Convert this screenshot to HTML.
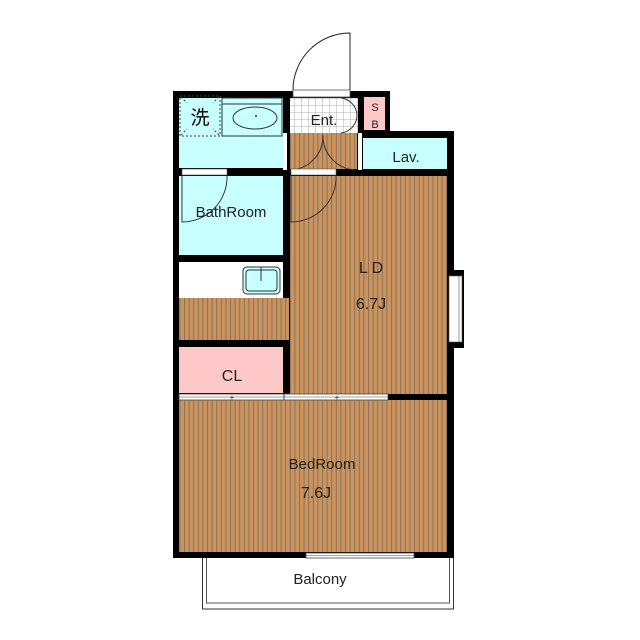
<!DOCTYPE html>
<html><head><meta charset="utf-8"><style>
body{margin:0;background:#fff;}
svg{display:block;}
text{font-family:"Liberation Sans","Noto Sans CJK JP",sans-serif;fill:#222;}
</style></head><body>
<svg width="640" height="640" viewBox="0 0 640 640" xmlns="http://www.w3.org/2000/svg">
<defs>
<pattern id="fl" width="4.6" height="10" patternUnits="userSpaceOnUse">
<rect width="4.6" height="10" fill="#c99460"/>
<rect x="0" width="1" height="10" fill="#8f7050"/>
</pattern>
<pattern id="tile" width="7" height="7" patternUnits="userSpaceOnUse">
<rect width="7" height="7" fill="#fff"/>
<path d="M0 0H7M0 0V7" stroke="#999" stroke-width="0.8" fill="none"/>
</pattern>
</defs>
<!-- balcony -->
<rect x="202.5" y="556" width="251" height="53" fill="#fff" stroke="#333" stroke-width="1"/>
<rect x="206.5" y="556" width="243" height="47" fill="#fff" stroke="#555" stroke-width="1"/>
<text x="320" y="584" font-size="15" text-anchor="middle">Balcony</text>
<path d="M173 91H390V131H454V558H173Z" fill="#000"/>
<!-- rooms -->
<rect x="179" y="98" width="104" height="70" fill="#c8ffff"/>
<rect x="290" y="98" width="68" height="35" fill="url(#tile)"/>
<rect x="290" y="133" width="67" height="36" fill="url(#fl)"/>
<rect x="364" y="97" width="21" height="33" fill="#ffc8c8"/>
<rect x="363" y="138" width="84" height="31" fill="#c8ffff"/>
<rect x="179" y="176" width="104" height="79" fill="#c8ffff"/>
<rect x="179" y="262" width="104" height="36" fill="#fff"/>
<rect x="179" y="298" width="110" height="42" fill="url(#fl)"/>
<rect x="179" y="347" width="104" height="46" fill="#ffc8c8"/>
<rect x="290" y="176" width="157" height="218" fill="url(#fl)"/>
<rect x="179" y="400" width="268" height="152" fill="url(#fl)"/>
<!-- separators -->
<rect x="283" y="133" width="4" height="37" fill="#fff"/>
<rect x="358" y="133" width="4" height="37" fill="#fff"/>
<!-- washer -->
<rect x="180" y="96" width="40" height="40" fill="none" stroke="#444" stroke-dasharray="2,2"/>
<path d="M181 97l6 6M219 97l-6 6M181 135l6-6M219 135l-6-6" stroke="#444" stroke-dasharray="2,2"/>
<text x="200" y="124" font-size="19" text-anchor="middle" style="fill:#000">洗</text>
<!-- basin -->
<rect x="222" y="98" width="60" height="14" fill="#c8ffff" stroke="#333"/>
<rect x="222" y="104" width="60" height="32" fill="#c8ffff" stroke="#333"/>
<ellipse cx="255" cy="118" rx="22" ry="11" fill="#c8ffff" stroke="#333"/>
<circle cx="256" cy="116" r="1" fill="#333"/>
<!-- door top -->
<rect x="293" y="90" width="57" height="7" fill="#fff" stroke="#555" stroke-width="0.8"/>
<path d="M350 90V33A57 57 0 0 0 293 90" fill="none" stroke="#222"/>
<path d="M341 98A18 18 0 0 1 357 115M341 133A18 18 0 0 0 357 115" fill="none" stroke="#333"/>
<path d="M290 170A34 34 0 0 0 323 135M356 170A34 34 0 0 1 323 135" fill="none" stroke="#333"/>
<text x="324" y="125" font-size="15" text-anchor="middle">Ent.</text>
<text x="375" y="111" font-size="11" text-anchor="middle">S</text>
<text x="375" y="128" font-size="11" text-anchor="middle">B</text>
<text x="406" y="162" font-size="15" text-anchor="middle">Lav.</text>
<!-- bath door -->
<rect x="182" y="169" width="45" height="6" fill="#fff" stroke="#555" stroke-width="0.6"/>
<path d="M182 175V222A45 45 0 0 0 227 175" fill="none" stroke="#333"/>
<text x="231" y="217" font-size="15" text-anchor="middle">BathRoom</text>
<rect x="291" y="169" width="45" height="6" fill="#fff" stroke="#555" stroke-width="0.6"/>
<path d="M291 175V222A45 45 0 0 0 336 175" fill="none" stroke="#333"/>
<!-- sink -->
<rect x="243" y="267" width="37" height="27" rx="4" fill="#c8ffff" stroke="#333"/>
<rect x="246" y="270" width="31" height="21" rx="3" fill="#c8ffff" stroke="#333"/>
<line x1="261" y1="267" x2="261" y2="281" stroke="#333"/>
<!-- LD window -->
<rect x="447" y="270" width="17" height="78" fill="#000"/>
<rect x="449" y="276" width="13" height="66" fill="#fff" stroke="#555" stroke-width="0.6"/>
<line x1="459" y1="276" x2="459" y2="342" stroke="#555" stroke-width="0.6"/>
<text x="371" y="273" font-size="16" text-anchor="middle">L D</text>
<text x="371" y="309" font-size="16" text-anchor="middle">6.7J</text>
<text x="232" y="381" font-size="16" text-anchor="middle">CL</text>
<!-- sliding door -->
<rect x="179" y="394" width="209" height="6" fill="#fff" stroke="#444" stroke-width="0.8"/>
<line x1="179" y1="397" x2="388" y2="397" stroke="#444" stroke-width="0.6"/>
<line x1="284" y1="394" x2="284" y2="400" stroke="#444"/>
<text x="232" y="400" font-size="8" text-anchor="middle">+</text>
<text x="337" y="400" font-size="8" text-anchor="middle">+</text>
<text x="322" y="469" font-size="15" text-anchor="middle">BedRoom</text>
<text x="316" y="498" font-size="16" text-anchor="middle">7.6J</text>
<rect x="306" y="553" width="108" height="5" fill="#fff" stroke="#444" stroke-width="0.8"/>
<line x1="306" y1="555.5" x2="414" y2="555.5" stroke="#444" stroke-width="0.6"/>
</svg>
</body></html>
